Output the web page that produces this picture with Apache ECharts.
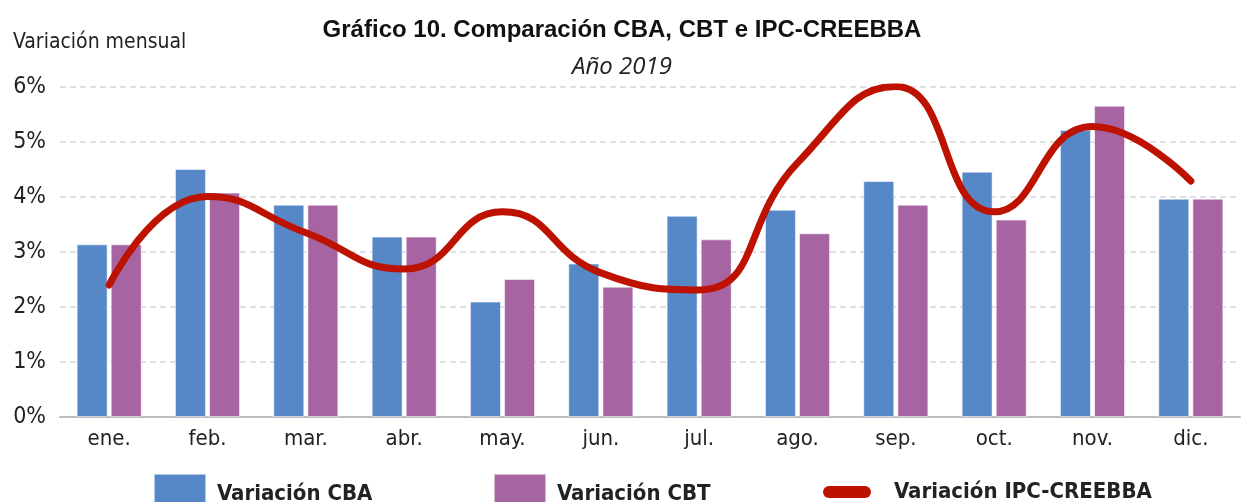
<!DOCTYPE html>
<html>
<head>
<meta charset="utf-8">
<script src="https://cdn.jsdelivr.net/npm/echarts@6/dist/echarts.min.js"></script>
<style>
    html, body { margin: 0; padding: 0; background: #fff; }
    #chart { width: 1244px; height: 502px; }
</style>
</head>
<body>
<div id="chart"></div>
<script>
const meses = ['ene.', 'feb.', 'mar.', 'abr.', 'may.', 'jun.', 'jul.', 'ago.', 'sep.', 'oct.', 'nov.', 'dic.']
const variacionCBA = [3.14, 4.51, 3.86, 3.28, 2.10, 2.79, 3.66, 3.77, 4.29, 4.46, 5.22, 3.97]
const variacionCBT = [3.14, 4.08, 3.86, 3.28, 2.51, 2.37, 3.23, 3.34, 3.86, 3.59, 5.66, 3.97]
const variacionIPC = [2.40, 4.01, 3.35, 2.69, 3.73, 2.62, 2.31, 4.62, 6.01, 3.73, 5.28, 4.29]

const narrow = '"DejaVu Sans Condensed", "DejaVu Sans", sans-serif'

// texto de leyenda
const leyendaTexto = { fontFamily: narrow, fontWeight: 'bold', fontSize: 22, color: '#222', padding: [0, 0, 0, 6] }

let myChart = echarts.init(document.getElementById('chart'))
myChart.setOption({
    animation: false,
    title: [
        {
            text: 'Gráfico 10. Comparación CBA, CBT e IPC-CREEBBA',
            left: 'center',
            top: 13,
            textStyle: { fontFamily: '"Liberation Sans", Arial, sans-serif', fontWeight: 'bold', fontSize: 24, color: '#111' }
        },
        {
            text: 'Año 2019',
            left: 'center',
            top: 50,
            textStyle: { fontFamily: '"Open Sans", sans-serif', fontStyle: 'italic', fontWeight: 'normal', fontSize: 24, color: '#222' }
        },
        {
            text: 'Variación mensual',
            left: 8,
            top: 27,
            textStyle: { fontFamily: narrow, fontWeight: 'normal', fontSize: 21, color: '#222' }
        }
    ],
    grid: {
        left: 60,
        right: 4,
        top: 87,
        bottom: 85
    },
    legend: [
        {
            left: 148,
            top: 468,
            itemWidth: 52,
            itemHeight: 40,
            data: ['Variación CBA'],
            icon: 'rect',
            textStyle: leyendaTexto
        },
        {
            left: 488,
            top: 468,
            itemWidth: 52,
            itemHeight: 40,
            data: ['Variación CBT'],
            icon: 'rect',
            textStyle: leyendaTexto
        },
        {
            left: 818,
            top: 476,
            itemWidth: 48,
            itemHeight: 40,
            symbolKeepAspect: true,
            data: [{ name: 'Variación IPC-CREEBBA', icon: 'path://M6,0 L42,0 A6,6 0 0 1 42,12 L6,12 A6,6 0 0 1 6,0 Z' }],
            textStyle: Object.assign({}, leyendaTexto, { padding: [0, 0, 0, 18] })
        }
    ],
    xAxis: {
        type: 'category',
        data: meses,
        axisLine: { lineStyle: { color: '#bdbdbd', width: 2 } },
        axisTick: { show: false },
        axisLabel: { fontFamily: narrow, fontSize: 22, color: '#222', margin: 11 }
    },
    yAxis: {
        type: 'value',
        min: 0,
        max: 6,
        interval: 1,
        axisLabel: { formatter: '{value}%', fontFamily: narrow, fontSize: 23, color: '#222', margin: 14 },
        splitLine: { lineStyle: { color: '#d6d6d6', type: [6, 4], width: 1.5 } }
    },
    series: [
        {
            name: 'Variación CBA',
            type: 'bar',
            data: variacionCBA,
            barWidth: 31,
            barGap: '10%',
            itemStyle: { color: '#5688c8', borderColor: 'rgba(255,255,255,0.55)', borderWidth: 1 }
        },
        {
            name: 'Variación CBT',
            type: 'bar',
            data: variacionCBT,
            barWidth: 31,
            barGap: '10%',
            itemStyle: { color: '#a764a3', borderColor: 'rgba(255,255,255,0.55)', borderWidth: 1 }
        },
        {
            name: 'Variación IPC-CREEBBA',
            type: 'line',
            data: variacionIPC,
            smooth: 0.5,
            symbol: 'none',
            itemStyle: { color: '#bd1200' },
            lineStyle: { color: '#bd1200', width: 7, cap: 'round' }
        }
    ]
})
</script>
</body>
</html>
